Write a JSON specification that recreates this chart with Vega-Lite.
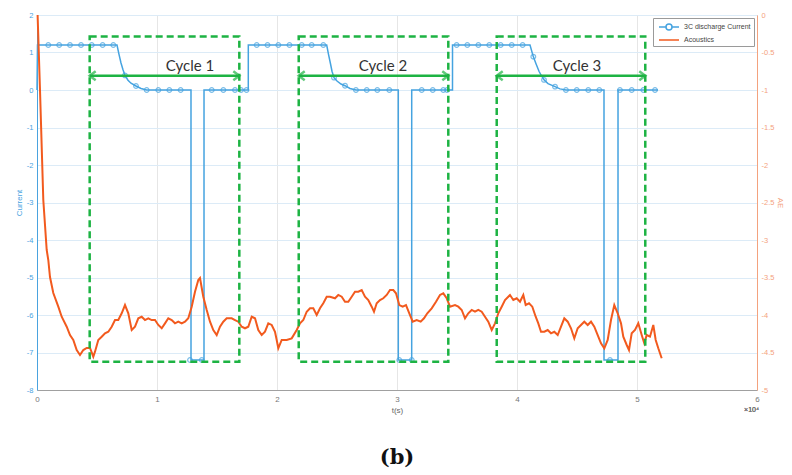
{
  "$schema": "https://vega.github.io/schema/vega-lite/v6.json",
  "width": 720,
  "height": 375,
  "autosize": {"type": "none"},
  "padding": {"left": 37, "top": 15, "right": 35, "bottom": 85},
  "background": "white",
  "config": {
    "view": {"stroke": "#c4c4c4", "strokeWidth": 1},
    "font": "Liberation Sans",
    "axisBottom": {
      "labelExpr": "'' + datum.value / 10000",
      "grid": true, "gridColor": "#e6e6e6",
      "domainColor": "#a0a0a0", "ticks": false,
      "labelColor": "#777777", "labelFontSize": 8, "labelPadding": 5,
      "labelOverlap": false, "labelFlush": false, "labelBound": false,
      "titleColor": "#666666", "titleFontSize": 8, "titleFontWeight": "normal",
      "titlePadding": 3
    },
    "axisLeft": {
      "labelExpr": "'' + datum.value",
      "grid": true, "gridColor": "#dcebf7",
      "domainColor": "#4aa3df", "ticks": false,
      "labelColor": "#4aa3df", "labelFontSize": 7.5, "labelPadding": 4,
      "labelOverlap": false, "labelFlush": false,
      "titleColor": "#4aa3df", "titleFontSize": 8, "titleFontWeight": "normal",
      "titlePadding": 3
    },
    "axisRight": {
      "labelExpr": "'' + datum.value",
      "grid": false,
      "domainColor": "#f4a27e", "ticks": false,
      "labelColor": "#f4a27e", "labelFontSize": 7.5, "labelPadding": 4,
      "labelOverlap": false, "labelFlush": false,
      "titleColor": "#f4a27e", "titleFontSize": 8, "titleFontWeight": "normal",
      "titlePadding": 2
    }
  },
  "title": {
    "text": "(b)",
    "orient": "bottom",
    "anchor": "middle",
    "font": "DejaVu Serif",
    "fontSize": 21,
    "fontWeight": "bold",
    "color": "#111111",
    "offset": 33
  },
  "datasets": {
    "current": [
      {"t": 0, "I": 0}, {"t": 40, "I": 1.2}, {"t": 6667, "I": 1.2},
      {"t": 6833, "I": 0.95}, {"t": 7000, "I": 0.72}, {"t": 7167, "I": 0.54},
      {"t": 7333, "I": 0.39}, {"t": 7583, "I": 0.26}, {"t": 7833, "I": 0.18},
      {"t": 8250, "I": 0.107}, {"t": 8667, "I": 0.04}, {"t": 9142, "I": 0},
      {"t": 12833, "I": 0}, {"t": 12834, "I": -7.2}, {"t": 13917, "I": -7.2},
      {"t": 13918, "I": 0}, {"t": 17608, "I": 0}, {"t": 17609, "I": 1.2},
      {"t": 24142, "I": 1.2}, {"t": 24292, "I": 0.95}, {"t": 24458, "I": 0.7},
      {"t": 24583, "I": 0.5}, {"t": 24750, "I": 0.33}, {"t": 25000, "I": 0.24},
      {"t": 25333, "I": 0.16}, {"t": 25667, "I": 0.115}, {"t": 26083, "I": 0.04},
      {"t": 26583, "I": 0}, {"t": 30108, "I": 0}, {"t": 30109, "I": -7.2},
      {"t": 31225, "I": -7.2}, {"t": 31226, "I": 0}, {"t": 34625, "I": 0},
      {"t": 34626, "I": 1.2}, {"t": 41083, "I": 1.2}, {"t": 41358, "I": 0.89},
      {"t": 41583, "I": 0.7}, {"t": 41833, "I": 0.5}, {"t": 42000, "I": 0.4},
      {"t": 42250, "I": 0.27}, {"t": 42583, "I": 0.17}, {"t": 43167, "I": 0.09},
      {"t": 43583, "I": 0.03}, {"t": 44083, "I": 0}, {"t": 47250, "I": 0},
      {"t": 47251, "I": -7.2}, {"t": 48417, "I": -7.2}, {"t": 48418, "I": 0},
      {"t": 51750, "I": 0}
    ],
    "markers": [
      {"t": 940, "I": 1.2}, {"t": 1850, "I": 1.2}, {"t": 2750, "I": 1.2},
      {"t": 3670, "I": 1.2}, {"t": 4560, "I": 1.2}, {"t": 5470, "I": 1.2},
      {"t": 6360, "I": 1.2}, {"t": 7330, "I": 0.39}, {"t": 8250, "I": 0.107},
      {"t": 9140, "I": 0}, {"t": 10110, "I": 0}, {"t": 11030, "I": 0},
      {"t": 11970, "I": 0}, {"t": 12750, "I": -7.2}, {"t": 13730, "I": -7.2},
      {"t": 14560, "I": 0}, {"t": 15530, "I": 0}, {"t": 16500, "I": 0},
      {"t": 17000, "I": 0}, {"t": 17460, "I": 0},
      {"t": 18310, "I": 1.2}, {"t": 19210, "I": 1.2}, {"t": 20110, "I": 1.2},
      {"t": 21040, "I": 1.2}, {"t": 22060, "I": 1.2}, {"t": 22890, "I": 1.2},
      {"t": 23860, "I": 1.2}, {"t": 24750, "I": 0.33}, {"t": 25670, "I": 0.115},
      {"t": 26580, "I": 0}, {"t": 27480, "I": 0}, {"t": 28360, "I": 0},
      {"t": 29360, "I": 0}, {"t": 30190, "I": -7.2}, {"t": 31230, "I": -7.2},
      {"t": 32060, "I": 0}, {"t": 32980, "I": 0}, {"t": 33860, "I": 0},
      {"t": 34170, "I": 0},
      {"t": 34970, "I": 1.2}, {"t": 35860, "I": 1.2}, {"t": 36780, "I": 1.2},
      {"t": 37690, "I": 1.2}, {"t": 38640, "I": 1.2}, {"t": 39560, "I": 1.2},
      {"t": 40470, "I": 1.2}, {"t": 41360, "I": 0.89}, {"t": 42250, "I": 0.27},
      {"t": 43170, "I": 0.09}, {"t": 44080, "I": 0}, {"t": 44980, "I": 0},
      {"t": 45940, "I": 0}, {"t": 46860, "I": 0}, {"t": 47750, "I": -7.2},
      {"t": 48580, "I": 0}, {"t": 49560, "I": 0}, {"t": 50530, "I": 0},
      {"t": 51500, "I": 0}
    ],
    "acoustics": [
      {"t": 50, "AE": 0}, {"t": 250, "AE": -1.0}, {"t": 525, "AE": -2.467},
      {"t": 808, "AE": -3.133}, {"t": 942, "AE": -3.267}, {"t": 1083, "AE": -3.493},
      {"t": 1358, "AE": -3.707}, {"t": 1775, "AE": -3.889}, {"t": 2058, "AE": -4.023},
      {"t": 2475, "AE": -4.156}, {"t": 2750, "AE": -4.267}, {"t": 3025, "AE": -4.333},
      {"t": 3308, "AE": -4.467}, {"t": 3583, "AE": -4.533}, {"t": 3858, "AE": -4.467},
      {"t": 4142, "AE": -4.44}, {"t": 4417, "AE": -4.44}, {"t": 4692, "AE": -4.556},
      {"t": 4833, "AE": -4.489}, {"t": 5108, "AE": -4.333}, {"t": 5392, "AE": -4.289},
      {"t": 5667, "AE": -4.244}, {"t": 5942, "AE": -4.223}, {"t": 6225, "AE": -4.156},
      {"t": 6500, "AE": -4.067}, {"t": 6775, "AE": -4.067}, {"t": 7058, "AE": -3.977},
      {"t": 7333, "AE": -3.867}, {"t": 7608, "AE": -3.977}, {"t": 7892, "AE": -4.2},
      {"t": 8167, "AE": -4.156}, {"t": 8442, "AE": -4.044}, {"t": 8725, "AE": -4.023},
      {"t": 9000, "AE": -4.067}, {"t": 9275, "AE": -4.044}, {"t": 9558, "AE": -4.067},
      {"t": 9833, "AE": -4.067}, {"t": 10108, "AE": -4.133}, {"t": 10392, "AE": -4.177},
      {"t": 10667, "AE": -4.111}, {"t": 10942, "AE": -4.044}, {"t": 11225, "AE": -4.067},
      {"t": 11500, "AE": -4.111}, {"t": 11775, "AE": -4.089}, {"t": 12058, "AE": -4.111},
      {"t": 12333, "AE": -4.089}, {"t": 12608, "AE": -4.044}, {"t": 12892, "AE": -3.889},
      {"t": 13167, "AE": -3.689}, {"t": 13442, "AE": -3.533}, {"t": 13583, "AE": -3.507},
      {"t": 13858, "AE": -3.756}, {"t": 14142, "AE": -3.933}, {"t": 14417, "AE": -4.089},
      {"t": 14692, "AE": -4.2}, {"t": 14975, "AE": -4.267}, {"t": 15250, "AE": -4.156},
      {"t": 15525, "AE": -4.089}, {"t": 15808, "AE": -4.044}, {"t": 16225, "AE": -4.044},
      {"t": 16500, "AE": -4.067}, {"t": 16775, "AE": -4.089}, {"t": 17058, "AE": -4.156},
      {"t": 17333, "AE": -4.177}, {"t": 17608, "AE": -4.156}, {"t": 17892, "AE": -4.023},
      {"t": 18167, "AE": -4.044}, {"t": 18442, "AE": -4.2}, {"t": 18725, "AE": -4.267},
      {"t": 19000, "AE": -4.223}, {"t": 19275, "AE": -4.111}, {"t": 19558, "AE": -4.133},
      {"t": 19833, "AE": -4.223}, {"t": 19975, "AE": -4.333}, {"t": 20108, "AE": -4.444},
      {"t": 20392, "AE": -4.333}, {"t": 20808, "AE": -4.333}, {"t": 21225, "AE": -4.311},
      {"t": 21642, "AE": -4.2}, {"t": 21917, "AE": -4.111}, {"t": 22192, "AE": -4.067},
      {"t": 22475, "AE": -3.956}, {"t": 22750, "AE": -3.911}, {"t": 23025, "AE": -3.911},
      {"t": 23308, "AE": -4.0}, {"t": 23583, "AE": -3.911}, {"t": 23858, "AE": -3.844},
      {"t": 24142, "AE": -3.756}, {"t": 24417, "AE": -3.756}, {"t": 24833, "AE": -3.777},
      {"t": 25108, "AE": -3.733}, {"t": 25392, "AE": -3.756}, {"t": 25667, "AE": -3.823},
      {"t": 25942, "AE": -3.823}, {"t": 26225, "AE": -3.756}, {"t": 26500, "AE": -3.689},
      {"t": 26775, "AE": -3.689}, {"t": 27058, "AE": -3.667}, {"t": 27333, "AE": -3.756},
      {"t": 27608, "AE": -3.8}, {"t": 27892, "AE": -3.889}, {"t": 28083, "AE": -3.956},
      {"t": 28308, "AE": -3.844}, {"t": 28583, "AE": -3.8}, {"t": 28858, "AE": -3.777},
      {"t": 29142, "AE": -3.733}, {"t": 29417, "AE": -3.667}, {"t": 29692, "AE": -3.667},
      {"t": 29917, "AE": -3.711}, {"t": 30192, "AE": -3.867}, {"t": 30475, "AE": -3.889},
      {"t": 30750, "AE": -3.867}, {"t": 31025, "AE": -3.977}, {"t": 31308, "AE": -4.089},
      {"t": 31642, "AE": -4.067}, {"t": 31975, "AE": -4.089}, {"t": 32250, "AE": -4.044},
      {"t": 32525, "AE": -3.977}, {"t": 32892, "AE": -3.911}, {"t": 33250, "AE": -3.823},
      {"t": 33583, "AE": -3.733}, {"t": 33858, "AE": -3.711}, {"t": 34142, "AE": -3.777},
      {"t": 34417, "AE": -3.889}, {"t": 34833, "AE": -3.867}, {"t": 35108, "AE": -3.889},
      {"t": 35392, "AE": -3.933}, {"t": 35667, "AE": -4.044}, {"t": 35942, "AE": -3.977},
      {"t": 36225, "AE": -3.933}, {"t": 36500, "AE": -3.956}, {"t": 36775, "AE": -3.933},
      {"t": 37058, "AE": -3.956}, {"t": 37333, "AE": -4.023}, {"t": 37608, "AE": -4.089},
      {"t": 37892, "AE": -4.2}, {"t": 38167, "AE": -4.111}, {"t": 38442, "AE": -3.977},
      {"t": 38725, "AE": -3.889}, {"t": 39000, "AE": -3.8}, {"t": 39275, "AE": -3.756},
      {"t": 39417, "AE": -3.733}, {"t": 39692, "AE": -3.8}, {"t": 39975, "AE": -3.777},
      {"t": 40250, "AE": -3.823}, {"t": 40525, "AE": -3.733}, {"t": 40725, "AE": -3.867},
      {"t": 41000, "AE": -3.844}, {"t": 41275, "AE": -3.889}, {"t": 41558, "AE": -4.023},
      {"t": 41775, "AE": -4.111}, {"t": 42000, "AE": -4.223}, {"t": 42275, "AE": -4.223},
      {"t": 42558, "AE": -4.2}, {"t": 42833, "AE": -4.244}, {"t": 43108, "AE": -4.223},
      {"t": 43392, "AE": -4.267}, {"t": 43667, "AE": -4.156}, {"t": 43942, "AE": -4.044},
      {"t": 44225, "AE": -4.089}, {"t": 44500, "AE": -4.177}, {"t": 44775, "AE": -4.311},
      {"t": 45058, "AE": -4.177}, {"t": 45333, "AE": -4.133}, {"t": 45608, "AE": -4.089},
      {"t": 45892, "AE": -4.133}, {"t": 46167, "AE": -4.089}, {"t": 46442, "AE": -4.156},
      {"t": 46725, "AE": -4.267}, {"t": 47000, "AE": -4.377}, {"t": 47275, "AE": -4.444},
      {"t": 47558, "AE": -4.333}, {"t": 47833, "AE": -4.067}, {"t": 48108, "AE": -3.867},
      {"t": 48392, "AE": -3.977}, {"t": 48667, "AE": -4.111}, {"t": 48858, "AE": -4.289},
      {"t": 49142, "AE": -4.4}, {"t": 49333, "AE": -4.467}, {"t": 49558, "AE": -4.244},
      {"t": 49833, "AE": -4.2}, {"t": 50108, "AE": -4.111}, {"t": 50392, "AE": -4.267},
      {"t": 50608, "AE": -4.377}, {"t": 50808, "AE": -4.267}, {"t": 51083, "AE": -4.289},
      {"t": 51358, "AE": -4.133}, {"t": 51558, "AE": -4.333}, {"t": 51775, "AE": -4.444},
      {"t": 52058, "AE": -4.577}
    ],
    "cycles": [
      {"cycle": "Cycle 1", "start": 4390, "end": 16860, "labelT": 12750},
      {"cycle": "Cycle 2", "start": 21810, "end": 34275, "labelT": 28830},
      {"cycle": "Cycle 3", "start": 38310, "end": 50690, "labelT": 45000}
    ]
  },
  "layer": [
    {
      "data": {"name": "current"},
      "layer": [
        {
          "mark": {"type": "line", "strokeWidth": 1.5, "interpolate": "linear"},
          "encoding": {
            "x": {
              "field": "t", "type": "quantitative",
              "scale": {"domain": [0, 60000], "nice": false},
              "axis": {"title": "t(s)", "tickCount": 6}
            },
            "y": {
              "field": "I", "type": "quantitative",
              "scale": {"domain": [-8, 2], "nice": false, "zero": false},
              "axis": {"orient": "left", "title": "Current", "values": [-8, -7, -6, -5, -4, -3, -2, -1, 0, 1, 2]}
            },
            "color": {
              "datum": "3C discharge Current",
              "scale": {
                "domain": ["3C discharge Current", "Acoustics"],
                "range": ["#45a3e0", "#f25a1e"]
              },
              "legend": {
                "orient": "top-right", "offset": 3, "title": null,
                "strokeColor": "#9a9a9a", "fillColor": "white",
                "padding": 3, "cornerRadius": 0,
                "labelFontSize": 7, "labelColor": "#444444",
                "symbolSize": 100, "symbolStrokeWidth": 1.5,
                "labelOffset": 16, "rowPadding": 0,
                "encode": {
                  "symbols": {
                    "update": {
                      "shape": {"signal": "datum.value === 'Acoustics' ? 'M-0.6,0H3.4' : 'M-0.6,0H0.8M2,0H3.4M2,0A0.6,0.6 0 1 1 0.8,0A0.6,0.6 0 1 1 2,0'"},
                      "fill": {"value": "transparent"}
                    }
                  }
                }
              }
            }
          }
        },
        {
          "data": {"name": "markers"},
          "mark": {"type": "point", "shape": "circle", "filled": false, "size": 22, "strokeWidth": 1.2, "color": "#45a3e0"},
          "encoding": {
            "x": {"field": "t", "type": "quantitative", "scale": {"domain": [0, 60000], "nice": false}, "axis": {"title": "t(s)", "tickCount": 6}},
            "y": {"field": "I", "type": "quantitative", "axis": {"orient": "left", "title": "Current", "values": [-8, -7, -6, -5, -4, -3, -2, -1, 0, 1, 2]}}
          }
        }
      ]
    },
    {
      "data": {"name": "acoustics"},
      "mark": {"type": "line", "strokeWidth": 2, "interpolate": "linear"},
      "encoding": {
        "x": {"field": "t", "type": "quantitative", "scale": {"domain": [0, 60000], "nice": false}, "axis": {"title": "t(s)", "tickCount": 6}},
        "y": {
          "field": "AE", "type": "quantitative",
          "scale": {"domain": [-5, 0], "nice": false, "zero": false},
          "axis": {"orient": "right", "title": "AE", "values": [-5, -4.5, -4, -3.5, -3, -2.5, -2, -1.5, -1, -0.5, 0]}
        },
        "color": {"datum": "Acoustics"}
      }
    },
    {
      "data": {"name": "cycles"},
      "layer": [
        {
          "mark": {"type": "rect", "fill": null, "fillOpacity": 0, "stroke": "#1db343", "strokeWidth": 2.5, "strokeDash": [7, 4]},
          "encoding": {
            "x": {"field": "start", "type": "quantitative", "scale": {"domain": [0, 60000], "nice": false}, "axis": {"title": "t(s)", "tickCount": 6}},
            "x2": {"field": "end"},
            "y": {"datum": 1.43, "type": "quantitative", "scale": {"domain": [-8, 2], "nice": false, "zero": false}, "axis": null},
            "y2": {"datum": -7.245}
          }
        },
        {
          "mark": {"type": "rule", "stroke": "#1db343", "strokeWidth": 2.5},
          "encoding": {
            "x": {"field": "start", "type": "quantitative", "axis": {"title": "t(s)", "tickCount": 6}},
            "x2": {"field": "end"},
            "y": {"datum": 0.38, "type": "quantitative", "axis": null}
          }
        },
        {
          "mark": {"type": "point", "shape": "M1.5,-1.1L0,0L1.5,1.1", "filled": false, "size": 64, "stroke": "#1db343", "strokeWidth": 2.5, "strokeJoin": "miter"},
          "encoding": {
            "x": {"field": "start", "type": "quantitative", "axis": {"title": "t(s)", "tickCount": 6}},
            "y": {"datum": 0.38, "type": "quantitative", "axis": null}
          }
        },
        {
          "mark": {"type": "point", "shape": "M-1.5,-1.1L0,0L-1.5,1.1", "filled": false, "size": 64, "stroke": "#1db343", "strokeWidth": 2.5, "strokeJoin": "miter"},
          "encoding": {
            "x": {"field": "end", "type": "quantitative", "axis": {"title": "t(s)", "tickCount": 6}},
            "y": {"datum": 0.38, "type": "quantitative", "axis": null}
          }
        },
        {
          "mark": {"type": "text", "font": "Lato", "fontSize": 15, "color": "#333333", "baseline": "alphabetic", "align": "center"},
          "encoding": {
            "x": {"field": "labelT", "type": "quantitative", "axis": {"title": "t(s)", "tickCount": 6}},
            "y": {"datum": 0.5, "type": "quantitative", "axis": null},
            "text": {"field": "cycle"}
          }
        },
        {
          "mark": {"type": "text", "font": "Liberation Sans", "fontSize": 7, "color": "#777777", "align": "right", "baseline": "top", "dy": 16, "dx": 2},
          "encoding": {
            "x": {"datum": 60000, "type": "quantitative", "axis": {"title": "t(s)", "tickCount": 6}},
            "y": {"datum": -8, "type": "quantitative", "axis": null},
            "text": {"value": "×10⁴"}
          }
        }
      ]
    }
  ],
  "resolve": {"scale": {"y": "independent"}}
}
